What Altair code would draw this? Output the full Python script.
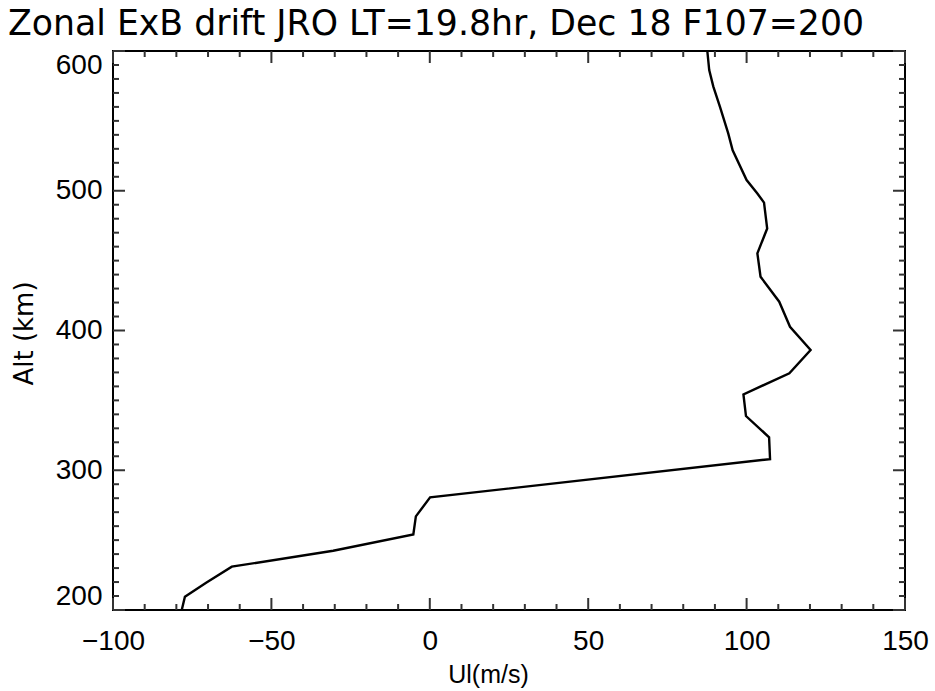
import altair as alt
import pandas as pd

# Profile (altitude in km, zonal drift in m/s)
alt_km = [200, 209.5, 219.5, 231, 242.4, 254, 267, 280.6, 308, 323.6, 338.8, 354.3,
          369.4, 386, 402.7, 420.6, 438.5, 455.2, 473, 491.5, 498, 507.7, 529, 541,
          560, 574.5, 586.4, 600]
ui_ms = [-78.3, -77.3, -70.6, -62.5, -30.5, -5.2, -4.4, 0.1, 107.4, 107.1, 99.8, 99.0,
         113.5, 120.2, 113.7, 110.3, 104.4, 103.4, 106.5, 105.5, 103.4, 100.0, 95.6, 94.2,
         91.6, 89.5, 88.2, 87.6]

x_major = [-100, -50, 0, 50, 100, 150]
x_minor = [-90, -80, -70, -60, -40, -30, -20, -10, 10, 20, 30, 40, 60, 70, 80, 90,
           110, 120, 130, 140]
y_major = [200, 300, 400, 500, 600]
y_minor = [210, 220, 230, 240, 250, 260, 270, 280, 290, 310, 320, 330, 340, 350, 360,
           370, 380, 390, 410, 420, 430, 440, 450, 460, 470, 480, 490, 510, 520, 530,
           540, 550, 560, 570, 580, 590]

W, H = 792, 559
FONT = "Liberation Sans"
TFONT = "DejaVu Sans"
TICK = "#333333"

xscale = alt.Scale(domain=[-100, 150], nice=False, zero=False)
yscale = alt.Scale(domain=[200, 600], nice=False, zero=False)

xaxis = alt.Axis(values=x_major, ticks=False, domain=False, grid=False,
                 labelFont=FONT, labelFontSize=28, labelColor="black",
                 labelPadding=17, labelFlush=False,
                 title="Ul(m/s)", titleFont=FONT, titleFontSize=25,
                 titleFontWeight="normal", titleColor="black",
                 titleX=375, titleY=72, titleBaseline="alphabetic",
                 titleAlign="center")
yaxis = alt.Axis(values=y_major, ticks=False, domain=False, grid=False,
                 labelFont=FONT, labelFontSize=28, labelColor="black",
                 labelPadding=11, labelFlush=True,
                 title="Alt (km)", titleFont=TFONT, titleFontSize=26,
                 titleFontWeight="normal", titleColor="black",
                 titleX=-81, titleY=282, titleAngle=270,
                 titleBaseline="alphabetic", titleAlign="center")

df = pd.DataFrame({"alt": alt_km, "ui": ui_ms})

line = alt.Chart(df).mark_line(color="black", strokeWidth=2.4).encode(
    x=alt.X("ui:Q", scale=xscale, axis=xaxis),
    y=alt.Y("alt:Q", scale=yscale, axis=yaxis),
    order=alt.Order("alt:Q"),
)


def xticks(vals, length, side):
    base = alt.Chart(pd.DataFrame({"ui": vals})).mark_rule(color=TICK, strokeWidth=2)
    if side == "bottom":
        y0, y1 = H, H - length
    else:
        y0, y1 = 0, length
    return base.encode(x=alt.X("ui:Q", scale=xscale, axis=xaxis),
                       y=alt.value(y0), y2=alt.value(y1))


def yticks(vals, length, side):
    base = alt.Chart(pd.DataFrame({"alt": vals})).mark_rule(color=TICK, strokeWidth=2)
    if side == "left":
        x0, x1 = 0, length
    else:
        x0, x1 = W, W - length
    return base.encode(y=alt.Y("alt:Q", scale=yscale, axis=yaxis),
                       x=alt.value(x0), x2=alt.value(x1))


layers = [
    xticks(x_major, 12, "bottom"), xticks(x_minor, 6, "bottom"),
    xticks(x_major, 12, "top"), xticks(x_minor, 6, "top"),
    yticks(y_major, 12, "left"), yticks(y_minor, 6, "left"),
    yticks(y_major, 12, "right"), yticks(y_minor, 6, "right"),
]

chart = alt.layer(line, *layers).properties(
    width=W, height=H,
    autosize="none",
    padding={"left": 113, "top": 51, "right": 30, "bottom": 81},
    background="white",
    title=alt.TitleParams(
        "Zonal ExB drift JRO LT=19.8hr, Dec 18 F107=200",
        anchor="start", frame="group", dx=-105, dy=38, offset=15,
        baseline="alphabetic", font=TFONT, fontSize=34.7,
        fontWeight="normal", color="black",
    ),
).configure_view(stroke="black", strokeWidth=2)

chart.save("out.html", embed_options={"renderer": "svg", "actions": False})
